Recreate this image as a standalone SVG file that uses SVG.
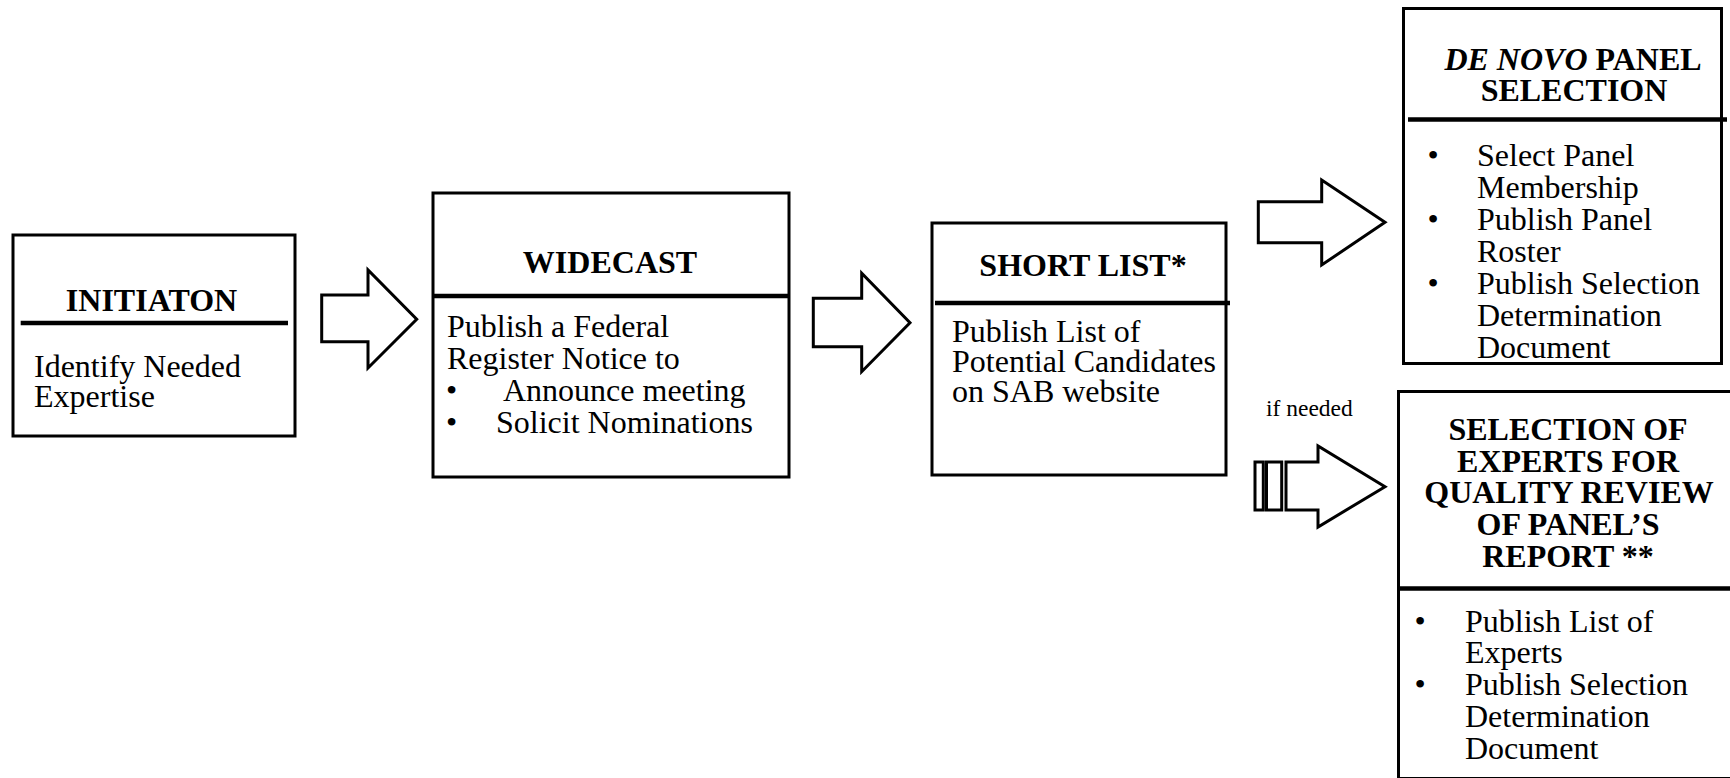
<svg xmlns="http://www.w3.org/2000/svg" width="1730" height="778" viewBox="0 0 1730 778">
<style>
.box{fill:#fff;stroke:#000;stroke-width:3}
.div{stroke:#000;stroke-width:4.5}
.arr{fill:#fff;stroke:#000;stroke-width:3;stroke-linejoin:miter}
.t{font-family:"Liberation Serif","Times New Roman",serif;font-size:32px;font-weight:bold;fill:#000;text-anchor:middle}
.b{font-family:"Liberation Serif","Times New Roman",serif;font-size:32px;fill:#000}
.s{font-family:"Liberation Serif","Times New Roman",serif;font-size:23.5px;fill:#000}
</style>
<rect width="1730" height="778" fill="#fff"/>
<g id="connectors">
<polygon class="arr" points="321.7,295 368,295 368,270 416.7,319.3 368,368 368,341.7 321.7,341.7"/>
<polygon class="arr" points="813.3,298.3 861.7,298.3 861.7,273.3 910,322.7 861.7,371.7 861.7,346.7 813.3,346.7"/>
<polygon class="arr" points="1258.3,201.7 1321.7,201.7 1321.7,180 1385,222.3 1321.7,265 1321.7,242.7 1258.3,242.7"/>
<g id="conditional-arrow">
<rect class="arr" x="1255" y="462" width="8.3" height="48" stroke-width="2.5"/>
<rect class="arr" x="1266.5" y="462" width="15.2" height="48" stroke-width="2.5"/>
<polygon class="arr" points="1286,462 1318,462 1318,446 1385,486.7 1318,527 1318,510 1286,510"/>
<text class="s" x="1266" y="416">if needed</text>
</g>
</g>
<g id="initiation">
<rect class="box" x="13" y="235" width="282" height="201"/>
<line class="div" x1="20.7" y1="323" x2="288" y2="323"/>
<text class="t" x="151.5" y="310.7">INITIATON</text>
<text class="b" x="34" y="376.7">Identify Needed</text>
<text class="b" x="34" y="406.7">Expertise</text>
</g>
<g id="widecast">
<rect class="box" x="433" y="193" width="356" height="284"/>
<line class="div" x1="433" y1="296" x2="789" y2="296"/>
<text class="t" x="610" y="273">WIDECAST</text>
<text class="b" x="447" y="337">Publish a Federal</text>
<text class="b" x="447" y="369">Register Notice to</text>
<text class="b" x="446" y="401">•</text>
<text class="b" x="503" y="401">Announce meeting</text>
<text class="b" x="446" y="433">•</text>
<text class="b" x="496" y="433">Solicit Nominations</text>
</g>
<g id="short-list">
<rect class="box" x="932" y="223" width="294" height="252"/>
<line class="div" x1="935" y1="303" x2="1230" y2="303"/>
<text class="t" x="1083" y="276">SHORT LIST*</text>
<text class="b" x="952" y="341.7">Publish List of</text>
<text class="b" x="952" y="371.7">Potential Candidates</text>
<text class="b" x="952" y="401.7">on SAB website</text>
</g>
<g id="de-novo">
<rect class="box" x="1403.5" y="8.5" width="318" height="355"/>
<line class="div" x1="1408" y1="119.5" x2="1727" y2="119.5"/>
<text class="t" x="1573" y="70"><tspan font-style="italic">DE NOVO</tspan> PANEL</text>
<text class="t" x="1574" y="100.7">SELECTION</text>
<text class="b" x="1427.5" y="165.7">•</text>
<text class="b" x="1477" y="165.7">Select Panel</text>
<text class="b" x="1477" y="197.7">Membership</text>
<text class="b" x="1427.5" y="229.7">•</text>
<text class="b" x="1477" y="229.7">Publish Panel</text>
<text class="b" x="1477" y="261.7">Roster</text>
<text class="b" x="1427.5" y="293.7">•</text>
<text class="b" x="1477" y="293.7">Publish Selection</text>
<text class="b" x="1477" y="325.7">Determination</text>
<text class="b" x="1477" y="357.5">Document</text>
</g>
<g id="quality-review">
<rect class="box" x="1398.5" y="391.5" width="340" height="387"/>
<line class="div" x1="1398" y1="588.5" x2="1730" y2="588.5"/>
<text class="t" x="1568" y="440">SELECTION OF</text>
<text class="t" x="1568" y="471.7">EXPERTS FOR</text>
<text class="t" x="1569" y="503.3">QUALITY REVIEW</text>
<text class="t" x="1568" y="535">OF PANEL’S</text>
<text class="t" x="1568" y="566.7">REPORT **</text>
<text class="b" x="1414.5" y="631.7">•</text>
<text class="b" x="1465" y="631.7">Publish List of</text>
<text class="b" x="1465" y="663.3">Experts</text>
<text class="b" x="1414.5" y="695">•</text>
<text class="b" x="1465" y="695">Publish Selection</text>
<text class="b" x="1465" y="726.7">Determination</text>
<text class="b" x="1465" y="759">Document</text>
</g>
</svg>
